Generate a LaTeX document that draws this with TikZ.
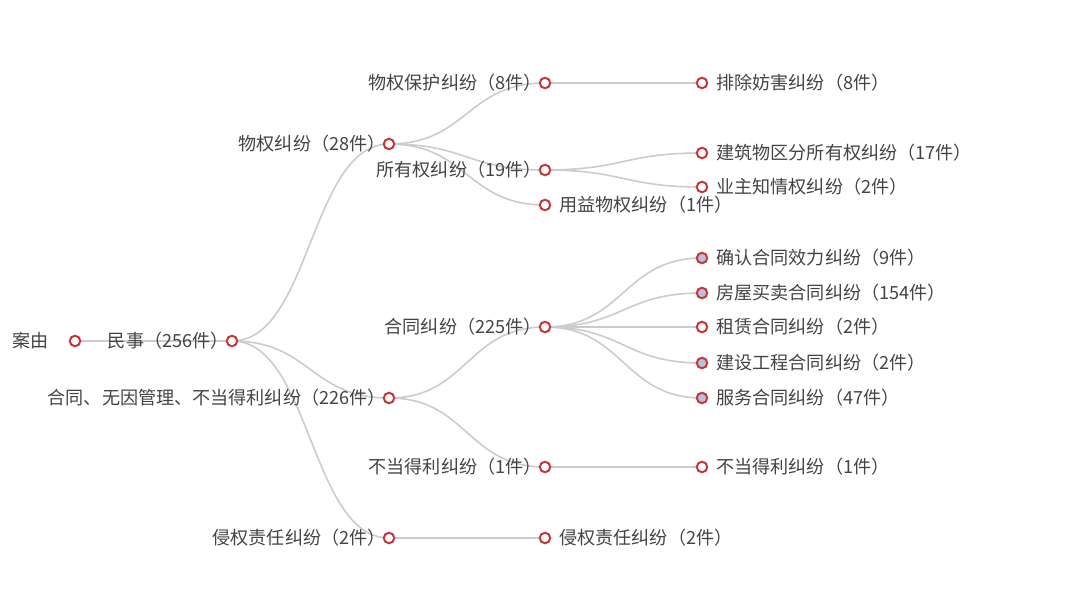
\documentclass[tikz,border=0pt]{standalone}
\usepackage{fontspec}
\setmainfont{Noto Sans CJK SC}
\usetikzlibrary{calc,backgrounds}

\definecolor{dotred}{HTML}{C8383A}
\definecolor{dotblue}{HTML}{B0C4DE}
\definecolor{linkgray}{HTML}{CCCCCC}
\definecolor{textgray}{HTML}{444444}

\tikzset{
  knot/.style={circle,draw=dotred,line width=2pt,fill=white,
    minimum size=10.5pt,inner sep=0pt},
  fullknot/.style={knot,fill=dotblue},
  every label/.style={font=\fontsize{18.1}{21}\selectfont,text=textgray,inner sep=0pt},
  lft/.style={label={[label distance=-3pt]left:#1}},
  rgt/.style={label={[label distance=8pt]right:#1}},
  link/.style={draw=linkgray,line width=1.6pt},
  branch/.style={to path={let \p1=(\tikztostart),\p2=(\tikztotarget) in
    .. controls ({(\x1+\x2)/2},\y1) and ({(\x1+\x2)/2},\y2) .. (\tikztotarget)}}
}

\begin{document}
\begin{tikzpicture}[x=1pt,y=-1pt]

\useasboundingbox (0,0) rectangle (1080,604);

\node[knot,label={[label distance=20pt]left:案由}] (anyou) at (75,341) {};
\node[knot,lft=民事（256件）] (minshi) at (232,341) {};

\node[knot,lft=物权纠纷（28件）] (wuquan) at (389,144) {};
\node[knot,lft=合同、无因管理、不当得利纠纷（226件）] (hetong) at (389,398) {};
\node[knot,lft=侵权责任纠纷（2件）] (qinquan) at (389,538) {};

\node[knot,lft=物权保护纠纷（8件）] (baohu) at (545,83) {};
\node[knot,lft=所有权纠纷（19件）] (suoyou) at (545,170) {};
\node[knot,rgt=用益物权纠纷（1件）] (yongyi) at (545,205) {};
\node[knot,lft=合同纠纷（225件）] (htjf) at (545,327) {};
\node[knot,lft=不当得利纠纷（1件）] (budang) at (545,467) {};
\node[knot,rgt=侵权责任纠纷（2件）] (qqzr) at (545,538) {};

\node[knot,rgt=排除妨害纠纷（8件）] (paichu) at (702,83) {};
\node[knot,rgt=建筑物区分所有权纠纷（17件）] (jianzhu) at (702,153) {};
\node[knot,rgt=业主知情权纠纷（2件）] (yezhu) at (702,187) {};
\node[fullknot,rgt=确认合同效力纠纷（9件）] (queren) at (702,258) {};
\node[fullknot,rgt=房屋买卖合同纠纷（154件）] (fangwu) at (702,293) {};
\node[knot,rgt=租赁合同纠纷（2件）] (zulin) at (702,327) {};
\node[fullknot,rgt=建设工程合同纠纷（2件）] (jianshe) at (702,363) {};
\node[fullknot,rgt=服务合同纠纷（47件）] (fuwu) at (702,398) {};
\node[knot,rgt=不当得利纠纷（1件）] (bdlf) at (702,467) {};

\begin{pgfonlayer}{background}
\fill[white] (0,0) rectangle (1080,604);
\draw[link] (anyou.center) -- (minshi.center);
\foreach \a/\b in {minshi/wuquan,minshi/hetong,minshi/qinquan,
    wuquan/baohu,wuquan/suoyou,wuquan/yongyi,
    hetong/htjf,hetong/budang,qinquan/qqzr,
    baohu/paichu,suoyou/jianzhu,suoyou/yezhu,
    htjf/queren,htjf/fangwu,htjf/zulin,htjf/jianshe,htjf/fuwu,
    budang/bdlf}
  \draw[link] (\a.center) to[branch] (\b.center);
\end{pgfonlayer}

\end{tikzpicture}
\end{document}
